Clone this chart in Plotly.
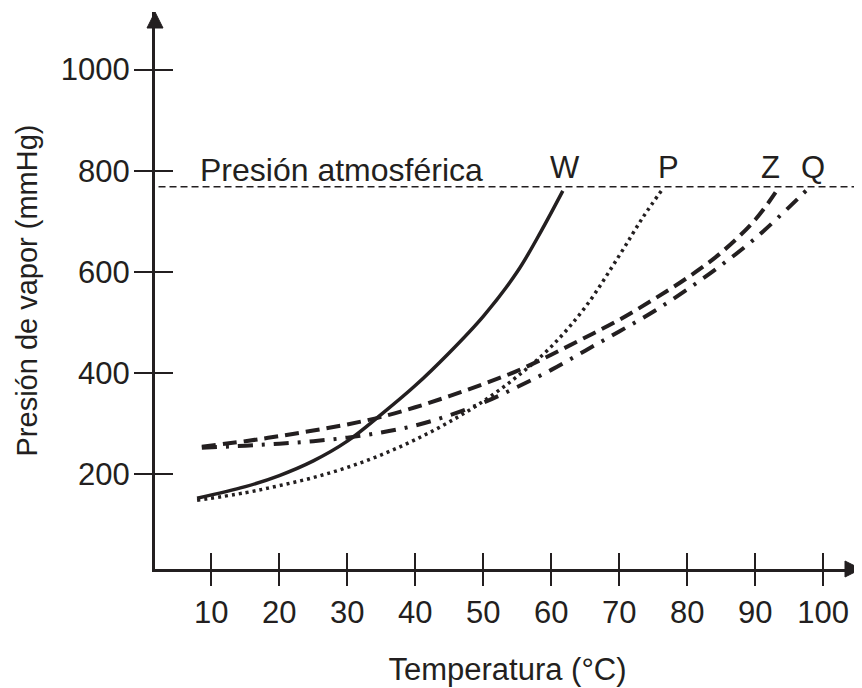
import plotly.graph_objects as go

# ---- data ----
W_T = [7.9, 15, 20, 25, 30, 35, 40, 45, 50, 55, 58.5, 61.7]
W_P = [152, 175, 197, 226, 265, 318, 375, 440, 512, 600, 680, 760]

P_T = [7.9, 15, 20, 25, 30, 35, 40, 45, 50, 55, 60, 65, 70, 73.5, 76.5]
P_P = [148, 163, 177, 193, 213, 238, 268, 303, 344, 393, 452, 530, 632, 708, 766]

Z_T = [8.6, 15, 20, 25, 30, 35, 40, 45, 50, 55, 60, 65, 70, 75, 80, 85, 90, 93]
Z_P = [254, 265, 275, 286, 298, 313, 332, 354, 378, 404, 436, 470, 505, 545, 588, 638, 703, 757]

Q_T = [8.6, 15, 20, 25, 30, 35, 40, 45, 50, 55, 60, 65, 70, 75, 80, 85, 90, 95, 97.6]
Q_P = [252, 256, 260, 265, 272, 282, 296, 316, 341, 372, 406, 444, 482, 521, 565, 613, 666, 728, 762]

X_TICKS = [10, 20, 30, 40, 50, 60, 70, 80, 90, 100]
Y_TICKS = [200, 400, 600, 800, 1000]
ATM = 768
ATM_LABEL = "Presión atmosférica"
SERIES_LABELS = ["W", "P", "Z", "Q"]
LABEL_T = [62.0, 77.2, 92.3, 98.5]

X_RANGE = [1.71, 105.42]
Y_RANGE = [12.1, 1113.9]

INK = "#231f20"
FONT = "Liberation Sans, Arial, sans-serif"
FS = 31

# page body has an 8px margin: figure is placed at (8, 8)
W, H = 854, 680
ML, MR, MT, MB = 147, 2, 4, 119
PW, PH = W - ML - MR, H - MT - MB

fig = go.Figure()

fig.add_trace(go.Scatter(x=W_T, y=W_P, mode="lines", line=dict(color=INK, width=3.5, shape="spline"), name="W"))
fig.add_trace(go.Scatter(x=P_T, y=P_P, mode="lines", line=dict(color=INK, width=3.5, dash="3px,4px", shape="spline"), name="P"))
fig.add_trace(go.Scatter(x=Z_T, y=Z_P, mode="lines", line=dict(color=INK, width=4, dash="14px,7px", shape="spline"), name="Z"))
fig.add_trace(go.Scatter(x=Q_T, y=Q_P, mode="lines", line=dict(color=INK, width=4, dash="15px,9px,3px,9px", shape="spline"), name="Q"))
# invisible trace so the overlay axes (crossing tick halves) are drawn
fig.add_trace(go.Scatter(x=[None], y=[None], xaxis="x2", yaxis="y2", showlegend=False, hoverinfo="skip"))

axis_common = dict(showgrid=False, zeroline=False, tickcolor=INK, tickwidth=2)

fig.update_layout(
    width=W, height=H,
    margin=dict(l=ML, r=MR, t=MT, b=MB),
    paper_bgcolor="white", plot_bgcolor="white",
    showlegend=False,
    font=dict(family=FONT, color=INK, size=FS),
    xaxis=dict(range=X_RANGE, tickvals=X_TICKS, ticks="outside", ticklen=14,
               showline=True, linecolor=INK, linewidth=3,
               tickfont=dict(size=FS, color=INK), ticklabelstandoff=0,
               title=dict(text="Temperatura (°C)", font=dict(size=FS, color=INK), standoff=30),
               **axis_common),
    yaxis=dict(range=Y_RANGE, tickvals=Y_TICKS, ticks="outside", ticklen=18,
               showline=True, linecolor=INK, linewidth=3,
               tickfont=dict(size=FS, color=INK), ticklabelstandoff=-2,
               title=dict(text="Presión de vapor (mmHg)", font=dict(size=29, color=INK), standoff=15),
               **axis_common),
    xaxis2=dict(range=X_RANGE, tickvals=X_TICKS, ticks="inside", ticklen=16, overlaying="x",
                anchor="y2", side="bottom", showticklabels=False, showline=False, **axis_common),
    yaxis2=dict(range=Y_RANGE, tickvals=Y_TICKS, ticks="inside", ticklen=18, overlaying="y",
                anchor="x2", side="left", showticklabels=False, showline=False, **axis_common),
)

# atmospheric pressure reference line
fig.add_shape(type="line", xref="paper", yref="y", x0=0.005, x1=1.01, y0=ATM, y1=ATM,
              line=dict(color=INK, width=1.5, dash="7px,4px"))

# arrowheads at the axis ends
ah, aw = 16, 8
fig.add_shape(type="path", xref="paper", yref="paper",
              path=f"M {-aw/PW} {1 - ah/PH} L 0 1 L {aw/PW} {1 - ah/PH} Z",
              fillcolor=INK, line=dict(color=INK, width=1))
tip = (W - ML - 1) / PW
fig.add_shape(type="path", xref="paper", yref="paper",
              path=f"M {tip - ah/PW} {aw/PH} L {tip} 0 L {tip - ah/PW} {-aw/PH} Z",
              fillcolor=INK, line=dict(color=INK, width=1))

fig.add_annotation(x=8.0, y=ATM, xref="x", yref="y", text=ATM_LABEL, showarrow=False,
                   xanchor="left", yanchor="bottom", yshift=-3, font=dict(size=32, color=INK))
for lab, t in zip(SERIES_LABELS, LABEL_T):
    fig.add_annotation(x=t, y=ATM, xref="x", yref="y", text=lab, showarrow=False,
                       xanchor="center", yanchor="bottom", yshift=0, font=dict(size=FS, color=INK))

fig.write_html("out.html")
